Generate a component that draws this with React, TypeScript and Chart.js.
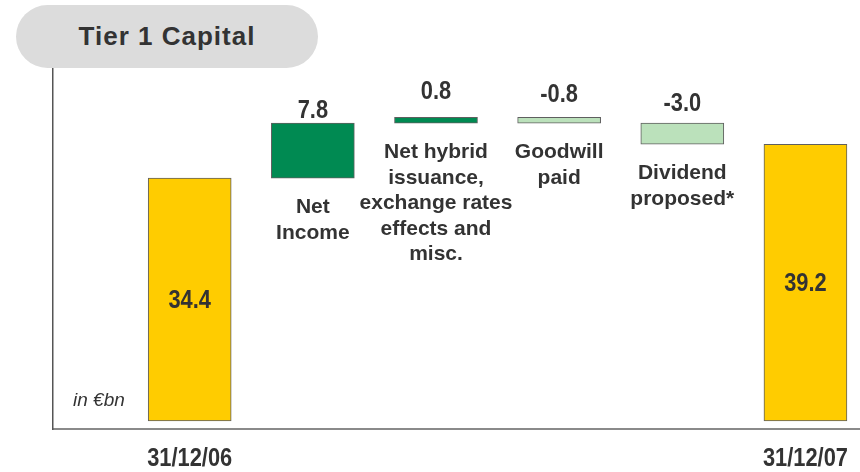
import React, { useEffect, useRef } from "react";
import { Chart, registerables } from "chart.js";

Chart.register(...registerables);

// ---- data ----
const startLabel = "31/12/06";
const endLabel = "31/12/07";
const startValue = 34.4;
const endValue = 39.2;
const stepNames: string[][] = [
  ["Net", "Income"],
  ["Net hybrid", "issuance,", "exchange rates", "effects and", "misc."],
  ["Goodwill", "paid"],
  ["Dividend", "proposed*"],
];
const stepValues = [7.8, 0.8, -0.8, -3.0];
const xTickPositions = [0, 5];
const xTickLabels = [startLabel, endLabel];
const unitLabel = "in €bn";
const title = "Tier 1 Capital";

// ---- styles ----
const YELLOW = "#FFCC00";
const GREEN = "#008A52";
const LIGHT_GREEN = "#BBE1BB";
const TEXT = "#333333";
const SANS = '"Liberation Sans", Arial, sans-serif';
const NARROW_SCALE = 0.84;
const valueGaps = [5, 18, 15, 12];

function buildBars() {
  const bars: { x: number; y: [number, number] }[] = [];
  bars.push({ x: 0, y: [0, startValue] });
  let level = startValue;
  stepValues.forEach((v, i) => {
    const next = Math.round((level + v) * 10) / 10;
    bars.push({ x: i + 1, y: [level, next] });
    level = next;
  });
  bars.push({ x: stepValues.length + 1, y: [0, endValue] });
  return bars;
}

function narrowText(ctx: CanvasRenderingContext2D, text: string, x: number, y: number) {
  ctx.save();
  ctx.translate(x, y);
  ctx.scale(NARROW_SCALE, 1);
  ctx.fillText(text, 0, 0);
  ctx.restore();
}

const labelPlugin = {
  id: "waterfallLabels",
  afterDraw(chart: any) {
    const ctx = chart.ctx;
    const meta = chart.getDatasetMeta(0);
    const bars = buildBars();
    ctx.save();
    ctx.fillStyle = TEXT;
    meta.data.forEach((el: any, i: number) => {
      const top = Math.min(el.y, el.base);
      const bottom = Math.max(el.y, el.base);
      const isTotal = i === 0 || i === bars.length - 1;
      const val = isTotal ? bars[i].y[1] : stepValues[i - 1];
      ctx.textAlign = "center";
      ctx.font = `bold 26px ${SANS}`;
      if (isTotal) {
        ctx.textBaseline = "middle";
        narrowText(ctx, val.toFixed(1), el.x, (top + bottom) / 2 + 1);
      } else {
        ctx.textBaseline = "alphabetic";
        narrowText(ctx, val.toFixed(1), el.x, top - valueGaps[i - 1]);
        ctx.font = `bold 21px ${SANS}`;
        const lines = stepNames[i - 1];
        lines.forEach((ln, k) => {
          ctx.fillText(ln, el.x, bottom + 35 + k * 25.5);
        });
      }
    });
    // x tick labels, placed by the x scale
    const xScale = chart.scales.x;
    ctx.font = `bold 26px ${SANS}`;
    ctx.textAlign = "center";
    ctx.textBaseline = "alphabetic";
    xScale.ticks.forEach((t: any, k: number) => {
      const idx = xTickPositions.indexOf(Number(t.value));
      if (idx < 0) return;
      narrowText(ctx, xTickLabels[idx], xScale.getPixelForTick(k), xScale.bottom + 37);
    });
    // unit label
    const area = chart.chartArea;
    ctx.font = `italic 19px ${SANS}`;
    ctx.textAlign = "left";
    ctx.fillText(unitLabel, area.left + 20, 406);
    ctx.restore();
  },
};

export default function App() {
  const ref = useRef<HTMLCanvasElement>(null);
  useEffect(() => {
    document.body.style.margin = "0";
    const bars = buildBars();
    const colors = bars.map((b, i) => {
      if (i === 0 || i === bars.length - 1) return YELLOW;
      return stepValues[i - 1] >= 0 ? GREEN : LIGHT_GREEN;
    });
    const chart = new Chart(ref.current as HTMLCanvasElement, {
      type: "bar",
      data: {
        datasets: [
          {
            data: bars as any,
            backgroundColor: colors,
            borderColor: "#5f5f5f",
            borderWidth: 1,
            borderSkipped: false,
            barThickness: 83,
          },
        ],
      },
      options: {
        responsive: false,
        animation: false,
        layout: { padding: { left: 53, right: 0, top: 68, bottom: 43 } },
        plugins: { legend: { display: false }, tooltip: { enabled: false } },
        scales: {
          x: {
            type: "linear",
            offset: false,
            min: -1.11,
            max: 5.443,
            grid: { display: false, drawTicks: false, offset: false },
            border: { display: true, color: "#8a8a8a", width: 2 },
            afterBuildTicks: (scale: any) => {
              scale.ticks = xTickPositions.map((v) => ({ value: v }));
            },
            ticks: { display: false, autoSkip: false },
          },
          y: {
            min: -1.13,
            max: 50,
            display: true,
            grid: { display: false, drawTicks: false },
            border: { display: true, color: "#555555", width: 1.5 },
            ticks: { display: false },
          },
        },
      },
      plugins: [labelPlugin],
    } as any);
    return () => chart.destroy();
  }, []);

  return (
    <div style={{ position: "fixed", left: 0, top: 0, width: 860, height: 472, background: "#fff" }}>
      <canvas ref={ref} width={860} height={472} style={{ position: "absolute", left: 0, top: 0 }} />
      <div
        style={{
          position: "absolute",
          left: 16,
          top: 5,
          width: 302,
          height: 63,
          borderRadius: 32,
          background: "#dcdcdc",
          display: "flex",
          alignItems: "center",
          justifyContent: "center",
          fontFamily: SANS,
          fontWeight: "bold",
          fontSize: 26,
          letterSpacing: 1,
          color: TEXT,
        }}
      >
        {title}
      </div>
    </div>
  );
}
